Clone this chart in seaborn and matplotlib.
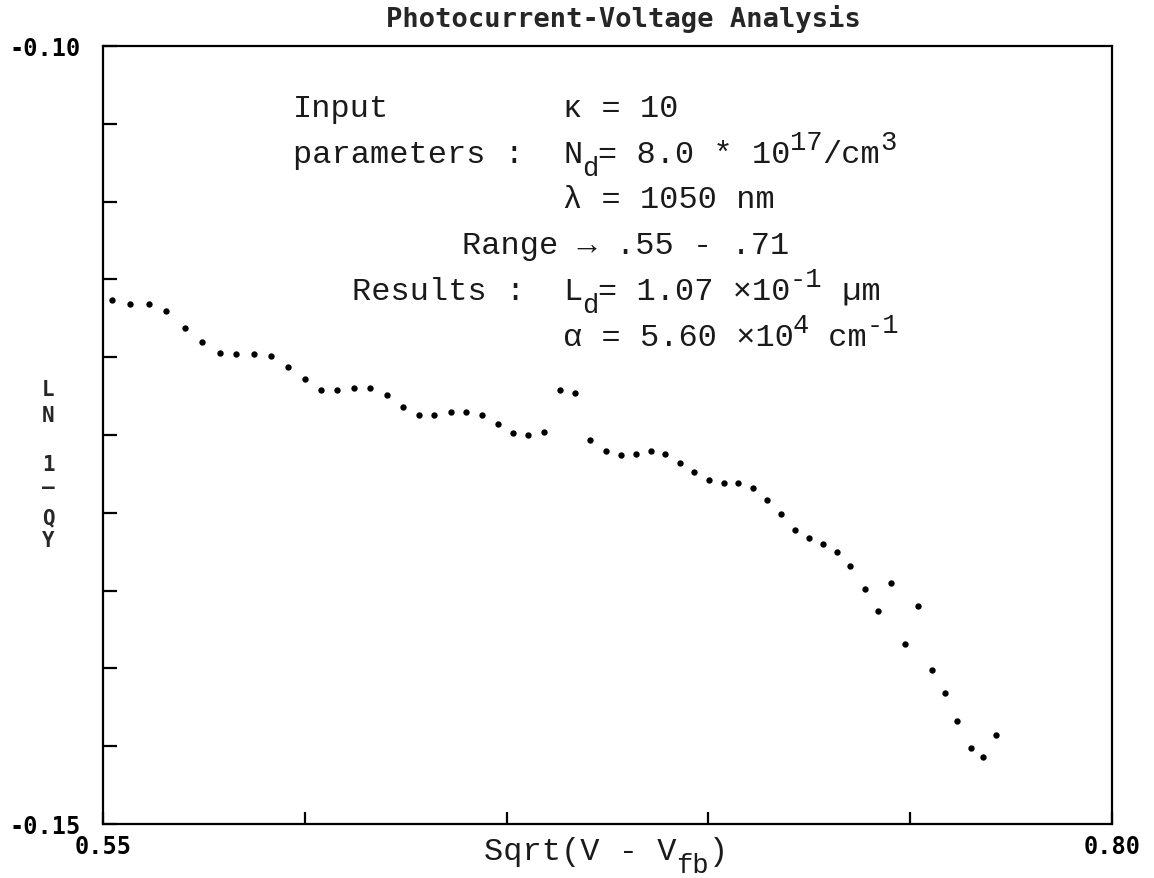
import matplotlib
matplotlib.use("Agg")
import matplotlib.pyplot as plt
import seaborn as sns
import pandas as pd

# ---- data ----
sqrt_v = [0.5522, 0.5567, 0.5613, 0.5657, 0.5703, 0.5746, 0.5790, 0.5830, 0.5874, 0.5917,
          0.5958, 0.6000, 0.6039, 0.6080, 0.6122, 0.6162, 0.6203, 0.6243, 0.6282, 0.6321,
          0.6362, 0.6399, 0.6439, 0.6478, 0.6515, 0.6554, 0.6593, 0.6632, 0.6669, 0.6707,
          0.6746, 0.6783, 0.6820, 0.6857, 0.6892, 0.6930, 0.6965, 0.7002, 0.7039, 0.7074,
          0.7110, 0.7144, 0.7181, 0.7214, 0.7249, 0.7284, 0.7319, 0.7351, 0.7387, 0.7420,
          0.7453, 0.7486, 0.7520, 0.7553, 0.7586, 0.7616, 0.7650, 0.7680, 0.7713]
ln_qy = [-0.1163, -0.1166, -0.1166, -0.1170, -0.1181, -0.1190, -0.1197, -0.1198, -0.1198, -0.1199,
         -0.1206, -0.1214, -0.1221, -0.1221, -0.1220, -0.1220, -0.1224, -0.1232, -0.1237, -0.1237,
         -0.1235, -0.1235, -0.1237, -0.1243, -0.1249, -0.1250, -0.1248, -0.1221, -0.1223, -0.1253,
         -0.1260, -0.1263, -0.1262, -0.1260, -0.1262, -0.1268, -0.1274, -0.1279, -0.1281, -0.1281,
         -0.1284, -0.1292, -0.1301, -0.1311, -0.1316, -0.1320, -0.1325, -0.1334, -0.1349, -0.1363,
         -0.1345, -0.1384, -0.1360, -0.1401, -0.1416, -0.1434, -0.1451, -0.1457, -0.1443]

x_ticks = [0.55, 0.60, 0.65, 0.70, 0.75, 0.80]
x_ticklabels = ["0.55", "", "", "", "", "0.80"]
y_ticks = [-0.15, -0.145, -0.14, -0.135, -0.13, -0.125, -0.12, -0.115, -0.11, -0.105, -0.10]
y_ticklabels = ["-0.15", "", "", "", "", "", "", "", "", "", "-0.10"]

title = "Photocurrent-Voltage Analysis"
ylabel_chars = ["L", "N", "1", "\u2014", "Q", "Y"]

# ---- style ----
sns.set_style("white")
plt.rcParams["font.family"] = ["DejaVu Sans Mono", "DejaVu Sans"]

W, H = 1154, 879
fig = plt.figure(figsize=(W / 100, H / 100), dpi=100)
fig.patch.set_facecolor("white")


def fx(px):
    return px / W


def fy(py):
    return 1 - py / H


ax = fig.add_axes([fx(103), fy(825), fx(1112) - fx(103), fy(47) - fy(825)])

df = pd.DataFrame({"x": sqrt_v, "y": ln_qy})
sns.scatterplot(data=df, x="x", y="y", ax=ax, color="black", s=21, linewidth=0, legend=False)

ax.set_xlim(0.55, 0.80)
ax.set_ylim(-0.15, -0.10)
ax.set_xlabel("")
ax.set_ylabel("")

for sp in ax.spines.values():
    sp.set_visible(True)
    sp.set_color("black")
    sp.set_linewidth(1.6)

ax.set_xticks(x_ticks)
ax.set_xticklabels(x_ticklabels)
ax.set_yticks(y_ticks)
ax.set_yticklabels(y_ticklabels)
ax.tick_params(axis="x", direction="in", length=9, width=1.6, bottom=True, top=False,
               pad=7, labelsize=17, colors="black")
ax.tick_params(axis="y", direction="in", length=10, width=1.6, left=True, right=False,
               pad=16, labelsize=17, colors="black")
for lab in ax.get_xticklabels() + ax.get_yticklabels():
    lab.set_fontweight("bold")
    lab.set_family("DejaVu Sans Mono")

# title
fig.text(fx(623), fy(19), title, ha="center", va="center", fontsize=19.5,
         fontweight="bold", family="DejaVu Sans Mono")

# y label, stacked characters
ylab_y = [390, 416, 465, 488, 518, 541]
for ch, py in zip(ylabel_chars, ylab_y):
    fig.text(fx(48), fy(py), ch, ha="center", va="center", fontsize=15,
             fontweight="bold", family="DejaVu Sans Mono")

# typewriter-style text pieces (monospace)
mono = ["Liberation Mono", "DejaVu Sans Mono"]
fs = 23
cw = fs * 100 / 72 * 0.6  # advance width of one char in px
SUP = 0.85
UP = 13
DOWN = -13


def draw_seq(x0, base, pieces):
    """pieces: (text, vertical shift px (+ up), scale)"""
    x = x0
    for txt, dy, sc in pieces:
        fig.text(fx(x), fy(base - dy), txt, ha="left", va="baseline",
                 fontsize=fs * sc, family=mono, color="#1a1a1a")
        x += len(txt) * cw * sc
    return x


def seq_width(pieces):
    return sum(len(t) * cw * sc for t, _, sc in pieces)


# x label
xl = [("Sqrt(V - V", 0, 1), ("fb", DOWN, SUP), (")", 0, 1)]
draw_seq(606 - seq_width(xl) / 2, 860, xl)

# annotation block
colx = 563
rows = [117, 163, 208, 254, 300, 346]
draw_seq(293, rows[0], [("Input", 0, 1)])
draw_seq(colx, rows[0], [("\u03ba = 10", 0, 1)])
draw_seq(293, rows[1], [("parameters :", 0, 1)])
draw_seq(colx, rows[1], [("N", 0, 1), ("d", DOWN, SUP), ("= 8.0 * 10", 0, 1),
                         ("17", UP, SUP), ("/cm", 0, 1), ("3", UP, SUP)])
draw_seq(colx, rows[2], [("\u03bb = 1050 nm", 0, 1)])
draw_seq(462, rows[3], [("Range \u2192 .55 - .71", 0, 1)])
draw_seq(352, rows[4], [("Results :", 0, 1)])
draw_seq(colx, rows[4], [("L", 0, 1), ("d", DOWN, SUP), ("= 1.07 \u00d710", 0, 1),
                         ("-1", UP, SUP), (" \u00b5m", 0, 1)])
draw_seq(colx, rows[5], [("\u03b1 = 5.60 \u00d710", 0, 1), ("4", UP, SUP),
                         (" cm", 0, 1), ("-1", UP, SUP)])

fig.savefig("out.png", dpi=100, facecolor="white")
